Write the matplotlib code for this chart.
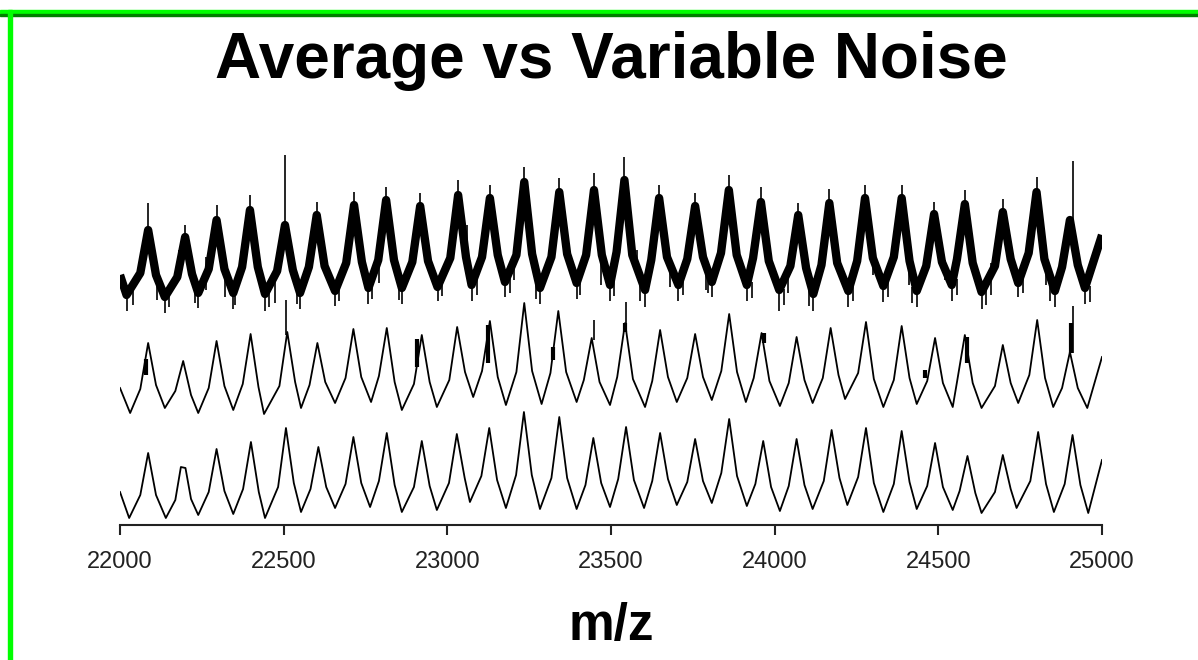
import numpy as np
import matplotlib
matplotlib.use('Agg')
import matplotlib.pyplot as plt
from matplotlib.patches import Rectangle

# averaged spectrum (bottom trace): valley, shoulder, peak, shoulder, ...
avg_mz = [22000, 22028,
          22062, 22086, 22110, 22140, 22169, 22186, 22200, 22217, 22239,
          22271, 22295, 22319, 22346, 22376, 22400, 22424, 22443,
          22483, 22507, 22531, 22553, 22582, 22606, 22630, 22657,
          22689, 22713, 22737, 22764, 22791, 22815, 22839, 22861,
          22898, 22922, 22946, 22968, 23005, 23029, 23053, 23069,
          23104, 23128, 23152, 23179, 23210, 23234, 23258, 23283,
          23318, 23342, 23366, 23395, 23422, 23446, 23470, 23497,
          23522, 23546, 23570, 23601, 23626, 23650, 23674, 23701,
          23733, 23757, 23781, 23808, 23837, 23861, 23885, 23915,
          23941, 23965, 23989, 24016, 24043, 24067, 24091, 24116,
          24150, 24174, 24198, 24222, 24255, 24279, 24303, 24332,
          24364, 24388, 24412, 24434, 24466, 24490, 24514, 24544,
          24565, 24589, 24613, 24632, 24673, 24697, 24721, 24739,
          24781, 24805, 24829, 24853, 24886, 24910, 24934, 24958, 25000]
avg_int = [33, 7,
           30, 72, 30, 7, 25, 58, 57, 26, 10,
           33, 76, 34, 11, 36, 83, 33, 7,
           38, 97, 42, 13, 36, 78, 38, 17,
           41, 88, 42, 18, 44, 92, 40, 13,
           38, 84, 39, 15, 42, 91, 47, 23,
           49, 97, 45, 17, 50, 113, 50, 16,
           47, 108, 47, 16, 40, 87, 42, 18,
           46, 98, 45, 17, 44, 92, 46, 20,
           43, 86, 44, 22, 52, 106, 49, 19,
           41, 84, 38, 14, 39, 86, 40, 16,
           44, 95, 47, 20, 48, 97, 42, 13,
           41, 94, 43, 16, 39, 82, 38, 15,
           34, 69, 32, 12, 33, 70, 36, 17,
           44, 93, 41, 13, 41, 90, 40, 12, 65]

# low-noise spectrum (middle trace)
mid_mz = [22000, 22031,
          22062, 22086, 22110, 22137, 22169, 22193, 22217, 22239,
          22271, 22295, 22319, 22346, 22375, 22399, 22423, 22440,
          22487, 22511, 22535, 22553, 22579, 22603, 22627, 22657,
          22689, 22713, 22737, 22767, 22791, 22815, 22839, 22861,
          22898, 22922, 22946, 22968, 23006, 23030, 23054, 23079,
          23106, 23130, 23154, 23179, 23211, 23235, 23259, 23288,
          23315, 23339, 23363, 23395, 23417, 23441, 23465, 23497,
          23519, 23543, 23567, 23604, 23626, 23650, 23674, 23701,
          23733, 23757, 23781, 23808, 23837, 23861, 23885, 23912,
          23936, 23960, 23984, 24016, 24043, 24067, 24091, 24116,
          24147, 24171, 24195, 24215, 24255, 24279, 24303, 24332,
          24364, 24388, 24412, 24434, 24466, 24490, 24514, 24544,
          24557, 24581, 24605, 24632, 24673, 24697, 24721, 24744,
          24778, 24802, 24826, 24851, 24878, 24902, 24926, 24955, 25000]
mid_int = [137, 112,
           136, 182, 140, 117, 134, 164, 130, 112,
           137, 184, 139, 115, 141, 191, 138, 111,
           139, 193, 143, 117, 140, 182, 143, 122,
           147, 196, 148, 123, 149, 197, 143, 115,
           141, 190, 143, 118, 145, 198, 153, 128,
           154, 204, 148, 120, 153, 222, 154, 121,
           152, 214, 153, 123, 145, 187, 143, 120,
           148, 202, 146, 118, 144, 195, 148, 123,
           147, 191, 148, 125, 154, 211, 153, 123,
           147, 192, 144, 119, 142, 188, 145, 122,
           147, 197, 150, 126, 152, 203, 146, 118,
           145, 199, 147, 121, 144, 187, 142, 118,
           143, 190, 142, 117, 139, 180, 142, 122,
           150, 205, 147, 118, 137, 173, 137, 117, 168]
mid_spike_mz = [22507, 23447, 23546, 24910]
mid_spike_lo = [190, 185, 198, 172]
mid_spike_hi = [225, 205, 223, 219]
mid_blob_mz = [22078, 22906, 23123, 23322, 23543, 23966, 24460, 24589, 24904]
mid_blob_lo = [150, 158, 162, 165, 193, 182, 147, 162, 172]
mid_blob_hi = [166, 186, 200, 178, 202, 192, 155, 188, 202]

# high-noise spectrum (top trace), centre of the noise band
var_mz = [22000, 22020,
          22062, 22086, 22110, 22137, 22175, 22199, 22220, 22239,
          22271, 22295, 22319, 22346, 22373, 22397, 22421, 22443,
          22480, 22504, 22528, 22550, 22577, 22601, 22625, 22657,
          22691, 22715, 22739, 22759, 22789, 22813, 22837, 22861,
          22893, 22917, 22941, 22970, 23009, 23033, 23057, 23074,
          23106, 23130, 23154, 23176, 23211, 23235, 23259, 23283,
          23318, 23342, 23366, 23395, 23424, 23448, 23472, 23497,
          23517, 23541, 23565, 23604, 23623, 23647, 23671, 23706,
          23733, 23757, 23781, 23808, 23836, 23860, 23884, 23915,
          23934, 23958, 23982, 24014, 24048, 24072, 24096, 24118,
          24143, 24167, 24191, 24225, 24252, 24276, 24300, 24332,
          24364, 24388, 24412, 24434, 24463, 24487, 24511, 24541,
          24557, 24581, 24605, 24632, 24673, 24697, 24721, 24744,
          24776, 24800, 24824, 24856, 24878, 24902, 24926, 24948, 25000]
var_int = [250, 230,
           252, 295, 250, 228, 248, 288, 251, 232,
           256, 305, 256, 232, 258, 315, 258, 231,
           254, 300, 255, 232, 258, 310, 259, 234,
           262, 320, 263, 237, 265, 325, 265, 237,
           263, 319, 264, 238, 267, 330, 268, 240,
           268, 327, 270, 243, 270, 343, 271, 237,
           268, 333, 271, 242, 270, 335, 270, 240,
           273, 345, 270, 235, 265, 327, 268, 240,
           266, 319, 268, 243, 272, 335, 270, 240,
           267, 323, 264, 235, 259, 310, 257, 231,
           260, 322, 262, 234, 264, 327, 267, 239,
           268, 327, 264, 234, 259, 311, 263, 240,
           266, 321, 262, 233, 259, 313, 266, 242,
           272, 333, 266, 234, 258, 305, 260, 237, 290]

# isolated noise hairs on the top trace: position, lower and upper end
var_spike_mz = [22086, 22199, 22295, 22397, 22504, 22601, 22715, 22813, 22917, 23033,
                23130, 23235, 23342, 23448, 23541, 23647, 23757, 23860, 23958, 24072,
                24167, 24276, 24388, 24487, 24581, 24697, 24800, 24910,
                22020, 22137, 22239, 22346, 22443, 22550, 22657, 22759, 22861, 22970,
                23074, 23176, 23283, 23395, 23497, 23604, 23706, 23808, 23915, 24014,
                24118, 24225, 24332, 24434, 24541, 24632, 24744, 24856, 24948,
                22040, 22150, 22228, 22352, 22456, 22540, 22668, 22770, 22852, 22985,
                23090, 23190, 23270, 23405, 23510, 23590, 23720, 23795, 23930, 24030,
                24105, 24240, 24345, 24420, 24556, 24645, 24758, 24840, 24962,
                22112, 22180, 22264, 22322, 22473, 22618, 22790, 23060, 23205, 23470,
                23580, 23680, 23790, 24040, 24140, 24300, 24410, 24520, 24660, 24830]
var_spike_lo = [290, 285, 300, 310, 295, 305, 315, 320, 314, 325,
                322, 338, 328, 330, 340, 322, 314, 330, 318, 305,
                317, 322, 322, 306, 316, 308, 328, 300,
                214, 212, 217, 216, 214, 216, 219, 221, 221, 224,
                224, 228, 221, 226, 224, 218, 224, 228, 224, 214,
                214, 218, 223, 218, 224, 216, 228, 218, 221,
                220, 218, 222, 220, 218, 221, 224, 226, 225, 229,
                230, 232, 226, 230, 229, 224, 230, 232, 227, 220,
                219, 224, 228, 222, 230, 220, 232, 224, 223,
                225, 248, 235, 228, 222, 262, 242, 275, 245, 240,
                250, 238, 235, 232, 255, 250, 240, 245, 230, 240]
var_spike_hi = [322, 300, 320, 330, 370, 323, 333, 338, 332, 345,
                340, 358, 347, 352, 368, 340, 332, 350, 338, 322,
                336, 340, 340, 323, 335, 326, 348, 364,
                232, 230, 234, 234, 233, 234, 236, 239, 239, 240,
                242, 245, 239, 244, 242, 237, 242, 245, 242, 237,
                233, 236, 241, 236, 242, 235, 244, 236, 239,
                236, 234, 238, 236, 234, 237, 240, 242, 241, 245,
                246, 248, 242, 246, 245, 240, 246, 248, 243, 236,
                235, 240, 244, 238, 246, 236, 248, 240, 239,
                262, 275, 268, 250, 250, 285, 280, 300, 272, 262,
                275, 262, 265, 262, 272, 272, 262, 265, 262, 268]

xticks = [22000, 22500, 23000, 23500, 24000, 24500, 25000]

W, H = 1198, 660
fig = plt.figure(figsize=(W / 100, H / 100), dpi=100)
fig.patch.set_facecolor('white')

ax = fig.add_axes([120 / W, (H - 525) / H, 982 / W, 380 / H])
ax.set_xlim(22000, 25000)
ax.set_ylim(0, 380)

ax.plot(avg_mz, avg_int, color='black', lw=1.3)
ax.plot(mid_mz, mid_int, color='black', lw=1.3)
ax.vlines(mid_spike_mz, mid_spike_lo, mid_spike_hi, color='black', lw=1.2)
ax.vlines(mid_blob_mz, mid_blob_lo, mid_blob_hi, color='black', lw=3)
ax.plot(var_mz, var_int, color='black', lw=6, solid_joinstyle='round',
        solid_capstyle='butt')
ax.vlines(var_spike_mz, var_spike_lo, var_spike_hi, color='black', lw=1.2)

for side in ['left', 'right', 'top']:
    ax.spines[side].set_visible(False)
ax.spines['bottom'].set_linewidth(1.5)
ax.spines['bottom'].set_color('#222222')
ax.set_yticks([])
ax.set_xticks(xticks)
ax.set_xticklabels([str(t) for t in xticks], fontsize=17,
                   family='Liberation Sans', color='#222222')
ax.tick_params(axis='x', direction='out', length=7, width=1.5,
               color='#222222', pad=12)

fig.text(611 / W, 1 - 78 / H, 'Average vs Variable Noise', ha='center',
         va='baseline', fontsize=46, fontweight='bold', family='Liberation Sans')
fig.text(611 / W, 1 - 640 / H, 'm/z', ha='center', va='baseline',
         fontsize=37, fontweight='bold', family='Liberation Sans')

# green frame along the top and left edges
fig.patches.append(Rectangle((0, 1 - 14 / H), 1, 4 / H, transform=fig.transFigure,
                             color='#00ff00', zorder=5))
fig.patches.append(Rectangle((0, 1 - 16 / H), 1, 2 / H, transform=fig.transFigure,
                             color='#008000', zorder=5))
fig.patches.append(Rectangle((8 / W, 0), 4 / W, 1 - 10 / H, transform=fig.transFigure,
                             color='#00ff00', zorder=6))

fig.savefig('out.png', dpi=100)
